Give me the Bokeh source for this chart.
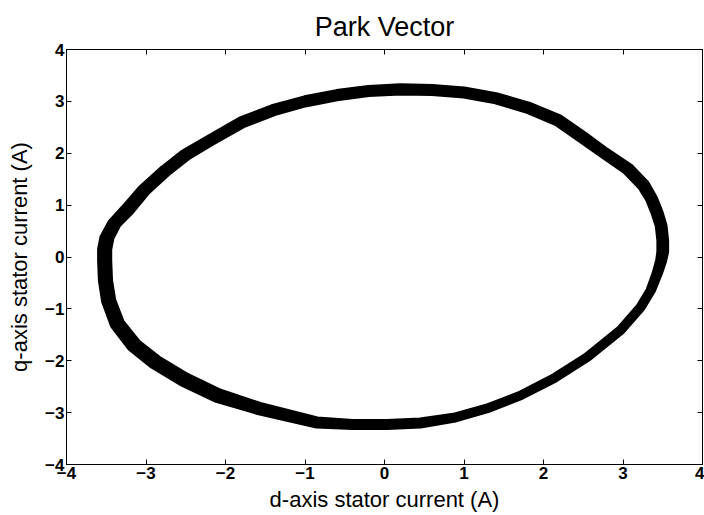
from bokeh.plotting import figure
from bokeh.models import LinearAxis, FixedTicker, Range1d
from bokeh.embed import file_html
from bokeh.resources import INLINE

# Park vector trajectory (stator current in the d-q frame): two recorded cycles,
# one running along the outside of the band and one along the inside
d_cycle1 = [3.53, 3.53, 3.51, 3.46, 3.39, 3.29, 3.085, 2.79, 2.50, 2.205, 1.81, 1.40, 1.00,
            0.60, 0.20, -0.20, -0.60, -1.00, -1.41, -1.805, -2.21, -2.525, -2.78, -3.065,
            -3.28, -3.44, -3.535, -3.565, -3.565, -3.555, -3.515, -3.405, -3.19, -2.915, -2.55,
            -2.12, -1.59, -0.85, -0.40, 0.03, 0.45, 0.87, 1.295, 1.72, 2.14, 2.56, 2.98,
            3.23, 3.365, 3.45, 3.505, 3.53]
q_cycle1 = [0.10, 0.32, 0.60, 0.86, 1.13, 1.40, 1.73, 2.03, 2.355, 2.67, 2.92, 3.10, 3.21,
            3.26, 3.27, 3.24, 3.16, 3.04, 2.87, 2.635, 2.28, 2.00, 1.695, 1.30,
            0.92, 0.65, 0.38, 0.15, -0.07, -0.45, -0.85, -1.31, -1.74, -2.08, -2.415,
            -2.73, -2.97, -3.23, -3.26, -3.26, -3.23, -3.12, -2.935, -2.68, -2.35, -1.94, -1.42,
            -0.98, -0.64, -0.32, -0.07, 0.10]

d_cycle2 = [3.47, 3.47, 3.45, 3.40, 3.33, 3.23, 3.035, 2.75, 2.46, 2.175, 1.79, 1.40, 1.00,
            0.60, 0.20, -0.20, -0.60, -1.00, -1.39, -1.775, -2.17, -2.475, -2.72, -2.995,
            -3.20, -3.36, -3.445, -3.475, -3.475, -3.465, -3.425, -3.315, -3.11, -2.845, -2.49,
            -2.08, -1.57, -0.85, -0.40, 0.03, 0.45, 0.87, 1.285, 1.70, 2.12, 2.54, 2.96,
            3.21, 3.335, 3.41, 3.455, 3.47]
q_cycle2 = [0.10, 0.32, 0.60, 0.84, 1.11, 1.36, 1.67, 1.97, 2.285, 2.59, 2.84, 3.02, 3.13,
            3.18, 3.19, 3.16, 3.08, 2.96, 2.79, 2.565, 2.22, 1.94, 1.645, 1.26,
            0.88, 0.63, 0.38, 0.15, -0.07, -0.45, -0.83, -1.27, -1.66, -1.98, -2.305,
            -2.61, -2.87, -3.15, -3.20, -3.20, -3.17, -3.08, -2.905, -2.66, -2.33, -1.92, -1.40,
            -0.96, -0.64, -0.32, -0.07, 0.10]

tick_values = [-4, -3, -2, -1, 0, 1, 2, 3, 4]

FONT = "Liberation Sans"

p = figure(width=704, height=515,
           x_range=Range1d(-4, 4), y_range=Range1d(-4, 4),
           output_backend="svg", toolbar_location=None,
           min_border_left=66, min_border_right=2,
           min_border_top=49, min_border_bottom=51,
           x_axis_label="d-axis stator current (A)",
           y_axis_label="q-axis stator current (A)",
           title="Park Vector")

for d_vals, q_vals in ((d_cycle1, q_cycle1), (d_cycle2, q_cycle2)):
    p.line(d_vals, q_vals, line_color="black", line_width=8,
           line_join="round", line_cap="round")

p.grid.visible = False
p.background_fill_color = "white"
p.border_fill_color = "white"
p.outline_line_color = "black"
p.outline_line_width = 1

p.title.align = "center"
p.title.text_font = FONT
p.title.text_font_size = "27px"
p.title.text_font_style = "normal"
p.title.text_color = "black"
p.title.standoff = 16


def style_axis(ax, show_labels):
    ax.ticker = FixedTicker(ticks=tick_values)
    ax.major_tick_in = 5
    ax.major_tick_out = 0
    ax.minor_tick_line_color = None
    ax.axis_line_color = "black"
    ax.major_tick_line_color = "black"
    ax.major_label_text_font = FONT
    ax.major_label_text_font_size = "17px"
    ax.major_label_text_font_style = "bold"
    ax.major_label_text_color = "black" if show_labels else None
    ax.major_label_standoff = 2
    ax.axis_label_text_font = FONT
    ax.axis_label_text_font_size = "22px"
    ax.axis_label_text_font_style = "normal"
    ax.axis_label_text_color = "black"


style_axis(p.xaxis[0], True)
style_axis(p.yaxis[0], True)
p.xaxis[0].axis_label_standoff = 5
p.yaxis[0].axis_label_standoff = 10

top_axis = LinearAxis()
right_axis = LinearAxis()
style_axis(top_axis, False)
style_axis(right_axis, False)
p.add_layout(top_axis, "above")
p.add_layout(right_axis, "right")

open("out.html", "w").write(file_html(p, INLINE))
